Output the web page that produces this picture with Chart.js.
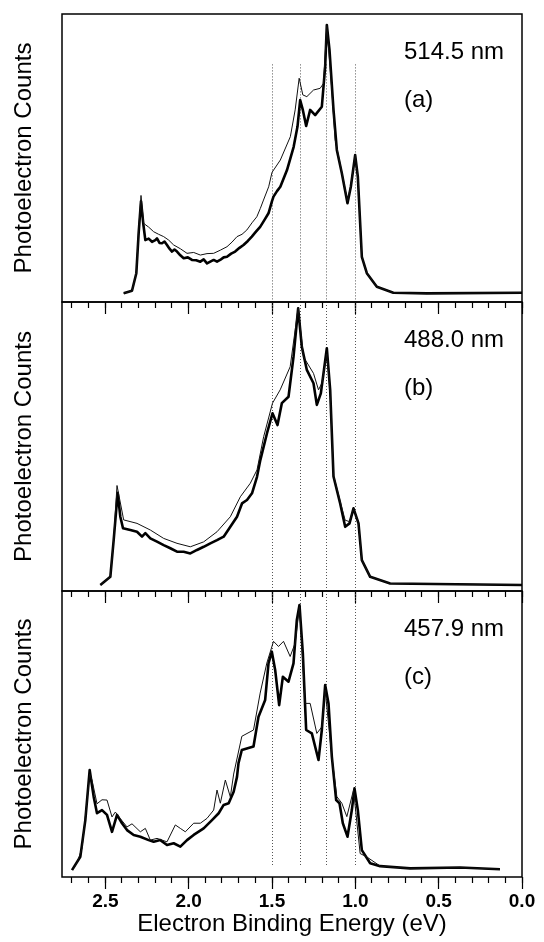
<!DOCTYPE html>
<html>
<head>
<meta charset="utf-8">
<script src="https://cdn.jsdelivr.net/npm/chart.js@4"></script>
<style>
  html, body { margin: 0; padding: 0; background: #fff; }
  #wrap { position: relative; width: 544px; height: 942px; }
  #wrap canvas { position: absolute; left: 0; }
</style>
</head>
<body>
<div id="wrap">
  <canvas id="panelA" width="544" height="316" style="top:0px"></canvas>
  <canvas id="panelB" width="544" height="317" style="top:288px"></canvas>
  <canvas id="panelC" width="544" height="365" style="top:577px"></canvas>
</div>
<script>
// energies in eV, counts in arbitrary units (0-100 per panel)
var guideEnergies = [1.50, 1.335, 1.175, 1.00];
var wavelengths = ['514.5 nm', '488.0 nm', '457.9 nm'];
var tags = ['(a)', '(b)', '(c)'];

var aThickE = [2.39, 2.34, 2.314, 2.30, 2.286, 2.272, 2.26, 2.24, 2.22, 2.20, 2.19, 2.175, 2.16, 2.145, 2.13, 2.115, 2.10, 2.085, 2.07, 2.05, 2.03, 2.005, 1.98, 1.955, 1.93, 1.91, 1.89, 1.87, 1.85, 1.83, 1.811, 1.79, 1.77, 1.745, 1.721, 1.695, 1.671, 1.645, 1.621, 1.595, 1.571, 1.545, 1.521, 1.50, 1.491, 1.47, 1.45, 1.41, 1.37, 1.347, 1.331, 1.315, 1.295, 1.271, 1.241, 1.201, 1.181, 1.171, 1.155, 1.131, 1.111, 1.081, 1.047, 1.027, 1.001, 0.985, 0.961, 0.931, 0.871, 0.772, 0.571, 0.0];
var aThickY = [3.0, 3.9, 10, 24, 35, 27, 21.5, 22, 20.9, 21.5, 22.1, 20.5, 20.4, 21, 19.8, 18.5, 17.5, 18.2, 17.5, 16.2, 15.2, 15.5, 14.6, 14.5, 14, 14.8, 13.4, 14, 14.6, 14, 14.6, 15.5, 15.7, 16.8, 17.5, 18.8, 19.8, 21.2, 22.7, 24.5, 26.1, 28.5, 30.8, 35, 36.6, 38.5, 40, 45.8, 53.9, 60.9, 70.1, 66.7, 61.1, 66.7, 64.9, 67.8, 81.7, 96.2, 87.5, 66.7, 52.8, 44.7, 34.3, 40, 51, 43.5, 15.7, 10, 5.3, 3.2, 3, 3.2];
var aThinE = [2.39, 2.34, 2.314, 2.30, 2.286, 2.27, 2.24, 2.21, 2.18, 2.15, 2.12, 2.09, 2.05, 2.01, 1.97, 1.93, 1.89, 1.85, 1.81, 1.77, 1.74, 1.71, 1.68, 1.651, 1.62, 1.591, 1.57, 1.551, 1.52, 1.50, 1.45, 1.39, 1.361, 1.337, 1.315, 1.291, 1.251, 1.211, 1.191, 1.171, 1.141, 1.121, 1.081, 1.047, 1.027, 1.001, 0.985, 0.961, 0.931, 0.871, 0.772, 0.571, 0.0];
var aThinY = [3.0, 3.9, 10, 25, 37, 27.3, 26, 24.4, 23.5, 22.7, 21.5, 19.8, 18.5, 16.9, 17.2, 16.3, 16.8, 16.9, 18, 19.2, 20.8, 22.7, 23.5, 25, 27.5, 29.6, 32.5, 35.4, 40, 45, 49.3, 57.4, 66.7, 77.7, 71.9, 71.3, 73.6, 74.2, 75.9, 96, 73.6, 56.3, 45, 35, 40.5, 51, 43.5, 15.7, 10, 5.3, 3.2, 3, 3.2];

var bThickE = [2.53, 2.47, 2.45, 2.426, 2.41, 2.394, 2.35, 2.31, 2.28, 2.26, 2.23, 2.19, 2.15, 2.11, 2.07, 2.03, 1.99, 1.95, 1.91, 1.87, 1.83, 1.79, 1.75, 1.71, 1.68, 1.65, 1.62, 1.59, 1.57, 1.53, 1.497, 1.467, 1.441, 1.401, 1.371, 1.343, 1.321, 1.291, 1.251, 1.231, 1.207, 1.171, 1.151, 1.131, 1.091, 1.061, 1.035, 1.011, 0.981, 0.961, 0.911, 0.791, 0.0];
var bThickY = [2.1, 4.9, 17.6, 34, 25.7, 21.7, 21.1, 20.5, 18.8, 20, 18.2, 17.1, 15.9, 14.8, 13.6, 13.6, 13, 14.2, 15.3, 16.5, 17.6, 18.8, 22.2, 25.7, 30.3, 31.5, 33.8, 39.5, 45.3, 54.6, 61.5, 57.4, 65, 67.2, 81, 97.8, 84.5, 76.5, 71.9, 64.4, 68.4, 84, 69.6, 39.6, 30.3, 22.2, 23.4, 28.6, 23.4, 10.7, 4.9, 2.6, 2.1];
var bThinE = [2.53, 2.47, 2.45, 2.43, 2.39, 2.31, 2.23, 2.15, 2.07, 1.99, 1.91, 1.83, 1.75, 1.69, 1.63, 1.59, 1.55, 1.497, 1.451, 1.391, 1.361, 1.343, 1.311, 1.251, 1.221, 1.201, 1.171, 1.151, 1.131, 1.091, 1.061, 1.035, 1.011, 0.981, 0.961, 0.911, 0.791, 0.0];
var bThinY = [2.1, 4.9, 17.6, 36.5, 24.6, 23.4, 21.1, 18.2, 16.5, 15.3, 17, 20.5, 25.7, 32.6, 37.3, 41.9, 53.4, 65, 69.6, 77.6, 90.3, 98, 81, 75.3, 69.6, 71.9, 82, 69, 40, 31, 24.5, 24, 28.6, 23.4, 10.7, 4.9, 2.6, 2.1];

var cThickE = [2.70, 2.65, 2.62, 2.594, 2.57, 2.55, 2.52, 2.49, 2.46, 2.43, 2.40, 2.37, 2.33, 2.29, 2.24, 2.21, 2.17, 2.13, 2.09, 2.05, 2.01, 1.97, 1.91, 1.86, 1.82, 1.79, 1.76, 1.73, 1.71, 1.701, 1.681, 1.611, 1.581, 1.541, 1.521, 1.501, 1.481, 1.457, 1.435, 1.401, 1.371, 1.351, 1.335, 1.315, 1.295, 1.261, 1.221, 1.201, 1.181, 1.161, 1.141, 1.115, 1.095, 1.075, 1.047, 1.021, 1.005, 0.985, 0.961, 0.911, 0.851, 0.671, 0.372, 0.132];
var cThickY = [2.4, 7.1, 19.9, 37.4, 28.1, 22.3, 23.4, 21.7, 15.8, 21.7, 18.8, 16.4, 14.7, 14.1, 12.9, 12.3, 12.9, 11.2, 11.8, 10.6, 12.9, 14.7, 17, 19.9, 22.3, 25.2, 25.8, 29.8, 35, 39.8, 44.4, 45.6, 56, 61.9, 74.7, 78.8, 72.4, 60.1, 70, 68.3, 74.7, 89.9, 95.1, 78.2, 51.4, 50.2, 40.9, 51.4, 67.1, 60.7, 42.1, 26.9, 25.8, 18.8, 14.1, 23.4, 31, 23.4, 9.4, 4.8, 3.8, 3, 3.3, 2.7];
var cThinE = [2.69, 2.67, 2.64, 2.62, 2.594, 2.58, 2.55, 2.52, 2.49, 2.46, 2.44, 2.41, 2.37, 2.34, 2.29, 2.26, 2.23, 2.19, 2.13, 2.08, 2.05, 2.02, 1.97, 1.93, 1.89, 1.85, 1.83, 1.81, 1.78, 1.75, 1.73, 1.681, 1.611, 1.571, 1.531, 1.491, 1.461, 1.431, 1.391, 1.361, 1.335, 1.301, 1.271, 1.231, 1.201, 1.181, 1.141, 1.111, 1.081, 1.051, 1.011, 0.971, 0.931, 0.85, 0.671, 0.372, 0.132];
var cThinY = [3, 5, 10, 21, 36, 33.9, 25.6, 27, 26.9, 21, 22.7, 20.4, 17.5, 18.6, 15.8, 17, 12.9, 13.5, 12.3, 18.2, 17, 15.8, 18.8, 18.8, 20.5, 23.4, 30.4, 25.8, 33.9, 28, 36, 49.2, 51.4, 64.3, 74.8, 82.4, 80.6, 82.4, 77.1, 81.8, 94.5, 60.7, 60.7, 50.2, 52.5, 65.4, 42.1, 28.1, 25.8, 21.1, 30.4, 8.2, 7, 3.8, 3, 3.3, 2.7];

var FONT = '"Liberation Sans", Arial, sans-serif';

function pts(xs, ys) {
    return xs.map(function(x, i) { return {x: x, y: ys[i]}; });
}

// frame, dotted guide lines and the wavelength / panel tags
var panelDecor = {
    id: 'panelDecor',
    beforeDatasetsDraw: function(chart, args, o) {
        var ctx = chart.ctx, x = chart.scales.x, y = chart.scales.y;
        ctx.save();
        ctx.strokeStyle = '#555';
        ctx.lineWidth = 1;
        ctx.setLineDash([1, 2]);
        guideEnergies.forEach(function(e) {
            var px = Math.round(x.getPixelForValue(e)) + 0.5;
            ctx.beginPath();
            ctx.moveTo(px, y.getPixelForValue(o.lineTop));
            ctx.lineTo(px, y.getPixelForValue(o.lineBottom));
            ctx.stroke();
        });
        ctx.restore();
    },
    afterDraw: function(chart, args, o) {
        var ctx = chart.ctx, a = chart.chartArea;
        ctx.save();
        ctx.strokeStyle = '#000';
        ctx.lineWidth = 1.5;
        ctx.strokeRect(a.left, a.top, a.right - a.left, a.bottom - a.top);
        ctx.fillStyle = '#000';
        ctx.font = '24px ' + FONT;
        ctx.textAlign = 'left';
        ctx.fillText(o.wavelength, a.right - 118, a.top + 45);
        ctx.fillText(o.tag, a.right - 118, a.top + 93);
        ctx.restore();
    }
};

function makePanel(id, idx, thick, thin, lineTop, lineBottom, showLabels, axisH) {
    var ctx = document.getElementById(id).getContext('2d');
    return new Chart(ctx, {
        type: 'line',
        data: {
            datasets: [
                {data: thin, borderColor: '#111', borderWidth: 1, pointRadius: 0, tension: 0},
                {data: thick, borderColor: '#000', borderWidth: 2.6, pointRadius: 0, tension: 0, borderJoinStyle: 'round'}
            ]
        },
        options: {
            responsive: false,
            animation: false,
            events: [],
            layout: { padding: {top: 14, right: 22, left: 0, bottom: 0} },
            plugins: {
                legend: { display: false },
                tooltip: { enabled: false },
                panelDecor: { lineTop: lineTop, lineBottom: lineBottom, wavelength: wavelengths[idx], tag: tags[idx] }
            },
            scales: {
                xMinor: {
                    type: 'linear', position: 'bottom', reverse: true, min: 0, max: 2.76, weight: 0,
                    ticks: { stepSize: 0.1, includeBounds: false, display: false },
                    grid: { drawOnChartArea: false, tickLength: 6, tickColor: '#000', tickWidth: 1.2 },
                    border: { display: false },
                    afterFit: function(s) { s.height = 0; }
                },
                x: {
                    type: 'linear', position: 'bottom', reverse: true, min: 0, max: 2.76, weight: 1,
                    ticks: {
                        stepSize: 0.5, includeBounds: false, display: showLabels, autoSkip: false, maxRotation: 0,
                        padding: 1, color: '#000', font: {family: FONT, size: 19, weight: 'bold'},
                        callback: function(v) { return v.toFixed(1); }
                    },
                    grid: { drawOnChartArea: false, tickLength: 12, tickColor: '#000', tickWidth: 1.2 },
                    border: { display: false },
                    title: { display: showLabels, text: 'Electron Binding Energy (eV)', color: '#000',
                             font: {family: FONT, size: 24}, padding: {top: 0, bottom: 3} },
                    afterFit: function(s) { s.height = axisH; }
                },
                y: {
                    min: 0, max: 100, position: 'left',
                    ticks: { display: false },
                    grid: { display: false },
                    border: { display: false },
                    title: { display: true, text: 'Photoelectron Counts', color: '#000',
                             font: {family: FONT, size: 24}, padding: {top: 10, bottom: 0} },
                    afterFit: function(s) { s.width = 62; }
                }
            }
        },
        plugins: [panelDecor]
    });
}

makePanel('panelA', 0, pts(aThickE, aThickY), pts(aThinE, aThinY), 82.5, 0, false, 14);
makePanel('panelB', 1, pts(bThickE, bThickY), pts(bThinE, bThinY), 100, 0, false, 14);
makePanel('panelC', 2, pts(cThickE, cThickY), pts(cThinE, cThinY), 100, 4.2, true, 65);
</script>
</body>
</html>
